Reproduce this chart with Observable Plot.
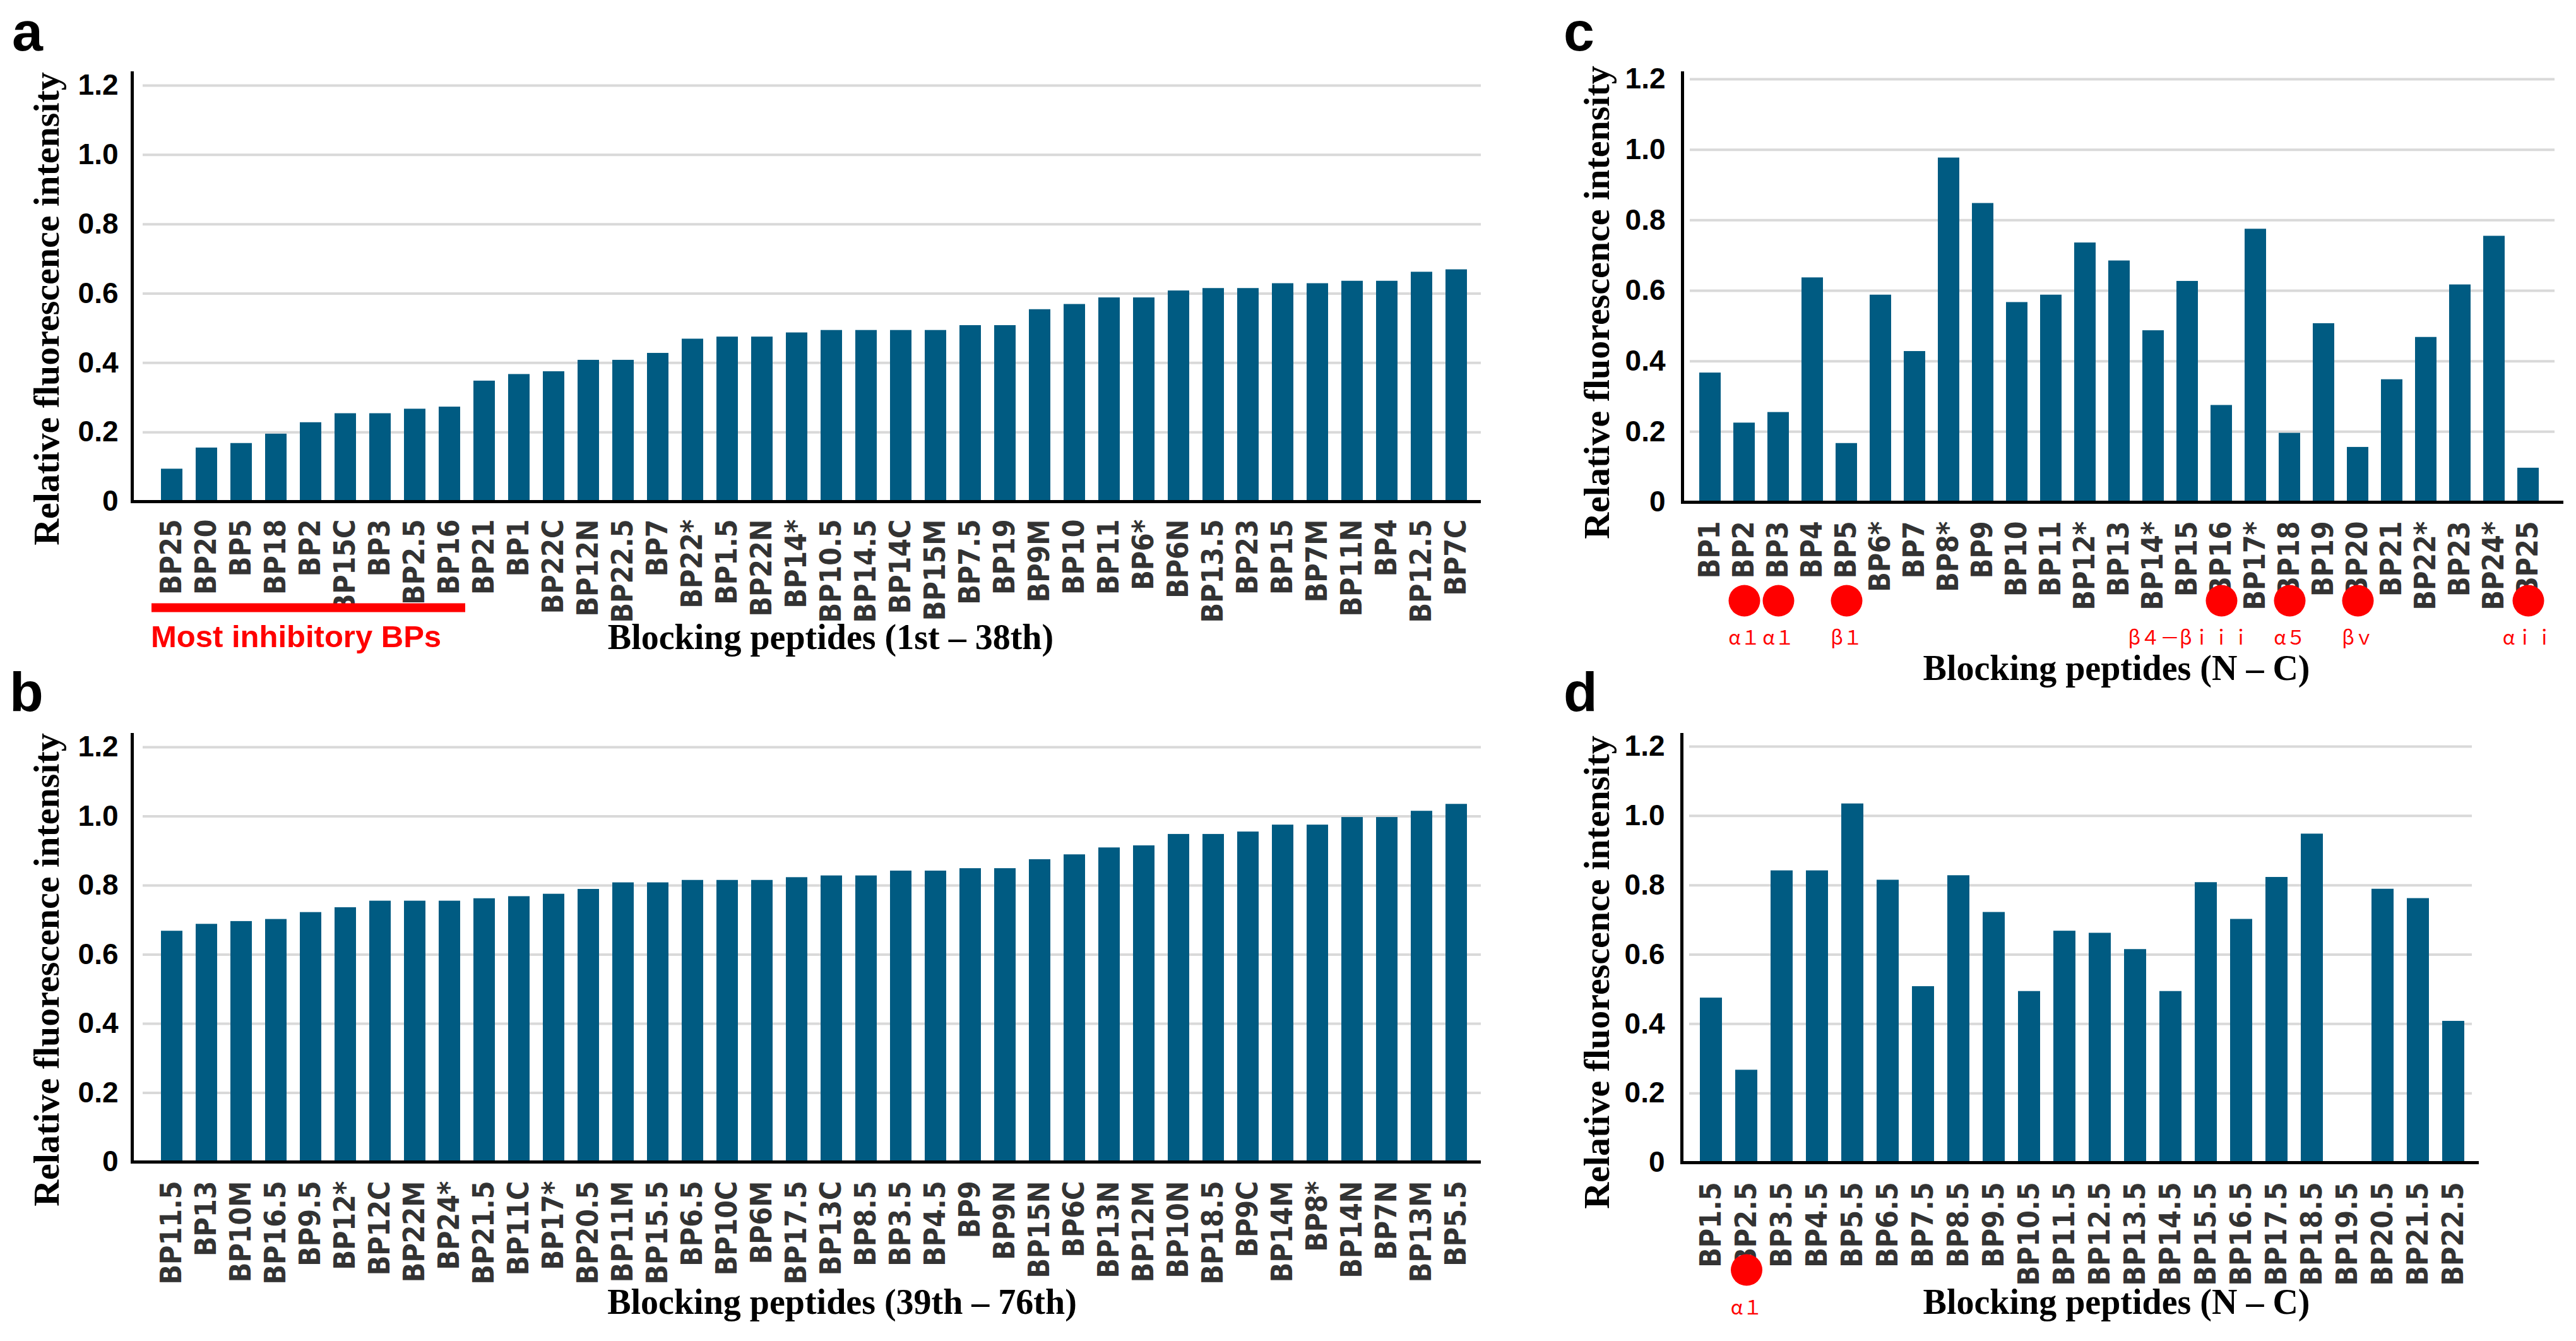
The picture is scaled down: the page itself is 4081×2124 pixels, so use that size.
<!DOCTYPE html>
<html><head><meta charset="utf-8">
<script src="https://cdn.jsdelivr.net/npm/d3@7"></script>
<script src="https://cdn.jsdelivr.net/npm/@observablehq/plot@0.6"></script>
<style>
html,body{margin:0;padding:0;background:#fff;}
#fig{position:relative;width:4081px;height:2124px;overflow:hidden;background:#fff;}
.panel{position:absolute;}
#overlay{position:absolute;left:0;top:0;}
</style></head><body><div id="fig"></div>
<script>
// ---- data ----
const namesA = ["BP25","BP20","BP5","BP18","BP2","BP15C","BP3","BP2.5","BP16","BP21","BP1","BP22C","BP12N","BP22.5","BP7","BP22*","BP1.5","BP22N","BP14*","BP10.5","BP14.5","BP14C","BP15M","BP7.5","BP19","BP9M","BP10","BP11","BP6*","BP6N","BP13.5","BP23","BP15","BP7M","BP11N","BP4","BP12.5","BP7C"];
const valuesA = [0.094,0.155,0.168,0.195,0.228,0.254,0.254,0.267,0.273,0.348,0.367,0.375,0.408,0.408,0.428,0.469,0.475,0.475,0.487,0.494,0.494,0.494,0.494,0.508,0.508,0.554,0.569,0.588,0.588,0.608,0.615,0.615,0.629,0.629,0.636,0.636,0.662,0.669];
const mostInhibitory = namesA.slice(0, 9);

const namesB = ["BP11.5","BP13","BP10M","BP16.5","BP9.5","BP12*","BP12C","BP22M","BP24*","BP21.5","BP11C","BP17*","BP20.5","BP11M","BP15.5","BP6.5","BP10C","BP6M","BP17.5","BP13C","BP8.5","BP3.5","BP4.5","BP9","BP9N","BP15N","BP6C","BP13N","BP12M","BP10N","BP18.5","BP9C","BP14M","BP8*","BP14N","BP7N","BP13M","BP5.5"];
const valuesB = [0.668,0.688,0.696,0.702,0.722,0.736,0.755,0.755,0.755,0.762,0.768,0.775,0.789,0.808,0.808,0.815,0.815,0.815,0.823,0.828,0.828,0.842,0.842,0.849,0.849,0.875,0.889,0.909,0.915,0.948,0.948,0.955,0.975,0.975,0.997,0.997,1.015,1.035];

const namesC = ["BP1","BP2","BP3","BP4","BP5","BP6*","BP7","BP8*","BP9","BP10","BP11","BP12*","BP13","BP14*","BP15","BP16","BP17*","BP18","BP19","BP20","BP21","BP22*","BP23","BP24*","BP25"];
const valuesC = [0.367,0.225,0.255,0.637,0.167,0.588,0.428,0.977,0.848,0.567,0.588,0.736,0.685,0.487,0.627,0.275,0.775,0.196,0.507,0.156,0.348,0.468,0.617,0.755,0.097];
const markedC = ["BP2","BP3","BP5","BP16","BP18","BP20","BP25"];
const markLabelsC = ["α１","α１","β１","β４－βｉｉｉ","α５","βｖ","αｉｉ"];

const namesD = ["BP1.5","BP2.5","BP3.5","BP4.5","BP5.5","BP6.5","BP7.5","BP8.5","BP9.5","BP10.5","BP11.5","BP12.5","BP13.5","BP14.5","BP15.5","BP16.5","BP17.5","BP18.5","BP19.5","BP20.5","BP21.5","BP22.5"];
const valuesD = [0.475,0.267,0.842,0.842,1.035,0.815,0.508,0.828,0.722,0.494,0.668,0.662,0.615,0.494,0.808,0.702,0.823,0.948,null,0.789,0.762,0.408];
const markedD = ["BP2.5"];
const markLabelsD = ["α１"];

const yTicks = [0, 0.2, 0.4, 0.6, 0.8, 1.0, 1.2];

// ---- style ----
const BAR = "#005b82";
const GRID = "#d9d9d9";
const SANS = "'Liberation Sans', Arial, sans-serif";
const NARROW = "'Liberation Sans Narrow','Arial Narrow','DejaVu Sans Condensed','Liberation Sans',sans-serif";
const SERIF = "'Liberation Serif','Times New Roman',serif";
const CJK = "'Noto Sans CJK JP','Noto Sans CJK SC',sans-serif";

const fig = document.getElementById("fig");

function panel(cfg) {
  const data = cfg.names.map((n, i) => ({name: n, value: cfg.values[i]}));
  const marks = [
    Plot.ruleY(yTicks.slice(1), {stroke: GRID, strokeWidth: 4, insetLeft: cfg.gridL, insetRight: cfg.gridR}),
    Plot.barY(data.filter(d => d.value != null), {x: "name", y: "value", fill: BAR}),
    Plot.ruleY([0], {stroke: "#000", strokeWidth: 5}),
    Plot.frame({anchor: "left", stroke: "#000", strokeWidth: 5}),
    Plot.axisY({ticks: yTicks, tickSize: 0, tickPadding: cfg.yPad,
      tickFormat: d => d === 0 ? "0" : d.toFixed(1),
      fontSize: 46, fontWeight: "bold", fontFamily: SANS, fill: "#000", label: null}),
    Plot.axisX({tickRotate: -90, tickSize: 0, tickPadding: cfg.xPad,
      fontSize: 46, fontWeight: "bold", fontFamily: NARROW, fill: "#333", label: null}),
    ...(cfg.extra || [])
  ];
  const svg = Plot.plot({
    width: cfg.width, height: cfg.height,
    marginLeft: cfg.mL, marginRight: cfg.mR, marginTop: cfg.mT, marginBottom: cfg.mB,
    x: {type: "band", domain: cfg.names, paddingInner: cfg.pi, paddingOuter: cfg.po, align: cfg.align},
    y: {domain: [0, cfg.ymax]},
    style: {background: "transparent", overflow: "visible"},
    marks
  });
  const div = document.createElement("div");
  div.className = "panel";
  div.style.left = cfg.left + "px";
  div.style.top = cfg.top + "px";
  div.appendChild(svg);
  fig.appendChild(div);
}

function annotations(names, labels, dotDy, textDy, special) {
  const ann = names.map((n, i) => ({name: n, label: labels[i]}));
  const base = {x: "name", text: "label", frameAnchor: "bottom", dy: textDy, lineAnchor: "bottom",
    fontSize: 31, fontFamily: CJK, fill: "#ff0000"};
  return [
    Plot.dot(ann, {x: "name", frameAnchor: "bottom", dy: dotDy, r: 25, fill: "#ff0000", stroke: "none"}),
    Plot.text(ann.filter(d => d.name !== special), base),
    Plot.text(ann.filter(d => d.name === special), {...base, dx: -51})
  ];
}

// panel a
panel({names: namesA, values: valuesA, left: 0, top: 0, width: 2400, height: 1046,
  mL: 209, mR: 54, mT: 115, mB: 252, ymax: 1.2364, pi: 0.39, po: 0.359, align: 0.675,
  gridL: 17, gridR: 0, yPad: 22, xPad: 28,
  extra: [
    Plot.ruleY([{from: mostInhibitory[0], to: mostInhibitory[mostInhibitory.length - 1], v: 0}],
      {x1: "from", x2: "to", y: "v", stroke: "#ff0000", strokeWidth: 14, dy: 168, insetLeft: -15, insetRight: -8})
  ]});
// panel b
panel({names: namesB, values: valuesB, left: 0, top: 1046, width: 2400, height: 1078,
  mL: 209, mR: 54, mT: 117, mB: 1078 - 794, ymax: 1.2364, pi: 0.39, po: 0.359, align: 0.675,
  gridL: 17, gridR: 0, yPad: 22, xPad: 30});
// panel c
panel({names: namesC, values: valuesC, left: 2440, top: 0, width: 1641, height: 1046,
  mL: 225, mR: 20, mT: 115, mB: 251, ymax: 1.218, pi: 0.363, po: 0.382, align: 0.417,
  gridL: 12, gridR: 14, yPad: 27, xPad: 30,
  extra: annotations(markedC, markLabelsC, 156, 225, "BP16")});
// panel d
panel({names: namesD, values: valuesD, left: 2440, top: 1046, width: 1641, height: 1078,
  mL: 224, mR: 154, mT: 117, mB: 283, ymax: 1.2346, pi: 0.368, po: 0.402, align: 0.556,
  gridL: 12, gridR: 11, yPad: 27, xPad: 31,
  extra: annotations(markedD, markLabelsD, 170, 240, null)});

// ---- overlay texts: panel letters and axis titles ----
const ov = d3.select(fig).append("svg").attr("id", "overlay")
  .attr("width", 4081).attr("height", 2124);
const letters = [["a", 19, 80], ["b", 15, 1126], ["c", 2477, 80], ["d", 2477, 1126]];
ov.selectAll("text.letter").data(letters).join("text").attr("class", "letter")
  .attr("x", d => d[1]).attr("y", d => d[2]).text(d => d[0])
  .attr("font-family", SANS).attr("font-weight", "bold").attr("font-size", 88);
const yTitle = "Relative fluorescence intensity";
const yTitles = [[73, 489], [73, 1536], [2529, 479], [2529, 1540]];
ov.selectAll("text.yt").data(yTitles).join("text").attr("class", "yt")
  .attr("transform", d => `translate(${d[0]},${d[1]}) rotate(-90)`)
  .attr("text-anchor", "middle").attr("dy", "0.35em").text(yTitle)
  .attr("font-family", SERIF).attr("font-weight", "bold").attr("font-size", 58);
const xTitles = [["Blocking peptides (1st – 38th)", 1316, 1028], ["Blocking peptides (39th – 76th)", 1334, 2081],
  ["Blocking peptides (N – C)", 3353, 1077], ["Blocking peptides (N – C)", 3353, 2081]];
ov.selectAll("text.xt").data(xTitles).join("text").attr("class", "xt")
  .attr("x", d => d[1]).attr("y", d => d[2]).attr("text-anchor", "middle").text(d => d[0])
  .attr("font-family", SERIF).attr("font-weight", "bold").attr("font-size", 56);
ov.append("text").attr("x", 239).attr("y", 1025).text("Most inhibitory BPs")
  .attr("font-family", SANS).attr("font-weight", "bold").attr("font-size", 49).attr("fill", "#ff0000");
</script></body></html>
